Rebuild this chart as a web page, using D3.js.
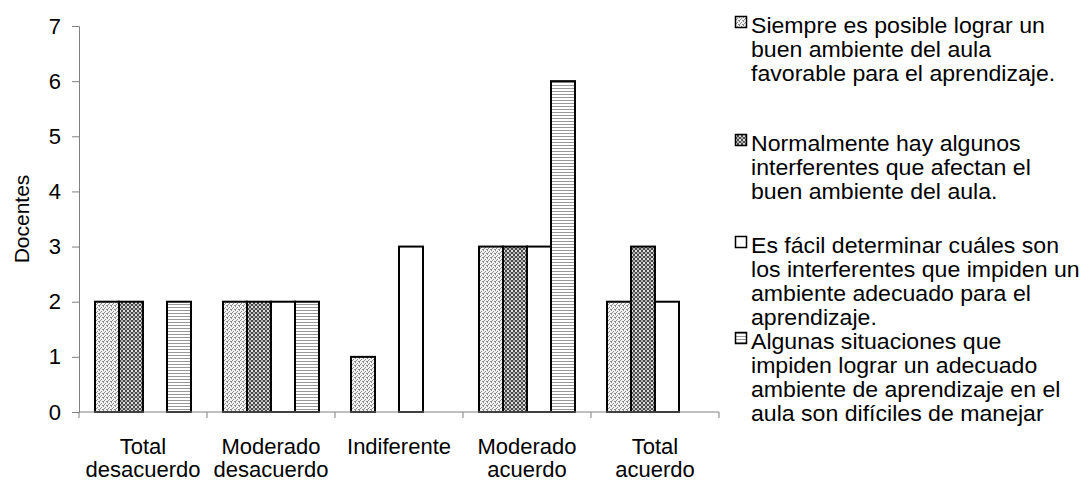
<!DOCTYPE html>
<html>
<head>
<meta charset="utf-8">
<script src="https://cdn.jsdelivr.net/npm/d3@7"></script>
<style>
  body { margin: 0; background: #fff; }
  text { font-family: "Liberation Sans", Arial, sans-serif; fill: #000; }
</style>
</head>
<body>
<div id="chart"></div>
<script>
// Chart data
const categories = [["Total", "desacuerdo"], ["Moderado", "desacuerdo"], ["Indiferente"], ["Moderado", "acuerdo"], ["Total", "acuerdo"]];
const seriesNames = [
    ["Siempre es posible lograr un", "buen ambiente del aula", "favorable para el aprendizaje."],
    ["Normalmente hay algunos", "interferentes que afectan el", "buen ambiente del aula."],
    ["Es fácil determinar cuáles son", "los interferentes que impiden un", "ambiente adecuado para el", "aprendizaje."],
    ["Algunas situaciones que", "impiden lograr un adecuado", "ambiente de aprendizaje en el", "aula son difíciles de manejar"]
];
const serie1 = [2, 2, 1, 3, 2];
const serie2 = [2, 2, 0, 3, 3];
const serie3 = [0, 2, 3, 3, 2];
const serie4 = [2, 2, 0, 6, 0];
const yTicks = [0, 1, 2, 3, 4, 5, 6, 7];

function main() {
    const width = 1088, height = 486;
    const margin = {top: 26, left: 79, right: 369, bottom: 74};
    const plotW = width - margin.left - margin.right,
        plotH = height - margin.top - margin.bottom;
    const fontSize = "22px";

    const svg = d3.select("#chart")
        .append("svg")
        .attr("width", width)
        .attr("height", height);

    // Fill patterns
    const defs = svg.append("defs");
    const p1 = defs.append("pattern").attr("id", "pat0")
        .attr("patternUnits", "userSpaceOnUse").attr("width", 4).attr("height", 4);
    p1.append("rect").attr("width", 4).attr("height", 4).attr("fill", "#f2f2f2");
    [[0, 0], [2, 1], [1, 2], [3, 3], [0, 3]].forEach(([x, y]) => {
        p1.append("rect").attr("x", x).attr("y", y).attr("width", 1).attr("height", 1).attr("fill", "#8c8c8c");
    });

    const p2 = defs.append("pattern").attr("id", "pat1")
        .attr("patternUnits", "userSpaceOnUse").attr("width", 4).attr("height", 4);
    p2.append("rect").attr("width", 4).attr("height", 4).attr("fill", "#4a4a4a");
    p2.append("rect").attr("x", 0).attr("y", 0).attr("width", 2).attr("height", 2).attr("fill", "#e0e0e0");
    p2.append("rect").attr("x", 2).attr("y", 2).attr("width", 2).attr("height", 2).attr("fill", "#b0b0b0");

    const p4 = defs.append("pattern").attr("id", "pat3")
        .attr("patternUnits", "userSpaceOnUse").attr("width", 4).attr("height", 3);
    p4.append("rect").attr("width", 4).attr("height", 3).attr("fill", "#fff");
    p4.append("rect").attr("y", 2).attr("width", 4).attr("height", 1).attr("fill", "#999");

    const fills = ["url(#pat0)", "url(#pat1)", "#fff", "url(#pat3)"];

    const g = svg.append("g")
        .attr("transform", `translate(${margin.left},${margin.top})`);

    // Scales
    const x = d3.scaleBand()
        .domain(d3.range(categories.length))
        .range([0, plotW])
        .paddingInner(0.25)
        .paddingOuter(0.125);
    const xSub = d3.scaleBand()
        .domain(d3.range(4))
        .range([0, x.bandwidth()]);
    const y = d3.scaleLinear().domain([0, 7]).range([plotH, 0]);

    // Y axis
    const yAxis = g.append("g")
        .call(d3.axisLeft(y).tickValues(yTicks).tickFormat(d3.format("d")).tickSize(7).tickPadding(11));
    yAxis.select(".domain").attr("stroke", "#808080");
    yAxis.selectAll(".tick line").attr("stroke", "#808080");
    yAxis.selectAll(".tick text")
        .style("font-size", fontSize)
        .style("font-family", "Liberation Sans, Arial, sans-serif");

    // Bars
    const allSeries = [serie1, serie2, serie3, serie4];
    allSeries.forEach((vals, s) => {
        g.append("g")
            .selectAll("rect")
            .data(vals.map((v, i) => ({v, i})).filter(d => d.v > 0))
            .join("rect")
            .attr("x", d => x(d.i) + xSub(s))
            .attr("y", d => y(d.v))
            .attr("width", xSub.bandwidth())
            .attr("height", d => y(0) - y(d.v))
            .attr("fill", fills[s])
            .attr("stroke", "#000")
            .attr("stroke-width", 2);
    });

    // X axis (ticks between categories)
    const xLine = g.append("g").attr("transform", `translate(0,${plotH})`);
    xLine.append("line")
        .attr("x1", 0).attr("x2", plotW)
        .attr("stroke", "#808080");
    const step = plotW / categories.length;
    xLine.selectAll(".xt")
        .data(d3.range(categories.length + 1))
        .join("line")
        .attr("x1", d => d * step).attr("x2", d => d * step)
        .attr("y1", 0).attr("y2", 6)
        .attr("stroke", "#808080");

    xLine.selectAll(".xl")
        .data(categories)
        .join("text")
        .attr("text-anchor", "middle")
        .style("font-size", fontSize)
        .attr("transform", (d, i) => `translate(${i * step + step / 2},42)`)
        .selectAll("tspan")
        .data(d => d)
        .join("tspan")
        .attr("x", 0)
        .attr("dy", (d, i) => i === 0 ? 0 : 23)
        .text(d => d);

    // Y title
    svg.append("text")
        .attr("transform", `translate(29,${margin.top + plotH / 2}) rotate(-90)`)
        .attr("text-anchor", "middle")
        .style("font-size", "21px")
        .text("Docentes");

    // Legend
    const legendTops = [33, 151, 253, 349];
    const legend = svg.append("g");
    seriesNames.forEach((lines, s) => {
        const lg = legend.append("g").attr("transform", `translate(735,${legendTops[s]})`);
        lg.append("rect")
            .attr("x", 0.5).attr("y", -16.5)
            .attr("width", 11).attr("height", 11)
            .attr("fill", fills[s])
            .attr("stroke", "#000")
            .attr("stroke-width", 1.5);
        lg.append("text")
            .style("font-size", fontSize)
            .attr("transform", "translate(16,0) scale(1.05,1)")
            .selectAll("tspan")
            .data(lines)
            .join("tspan")
            .attr("x", 0)
            .attr("dy", (d, i) => i === 0 ? 0 : 24)
            .text(d => d);
    });
}

main();
</script>
</body>
</html>
